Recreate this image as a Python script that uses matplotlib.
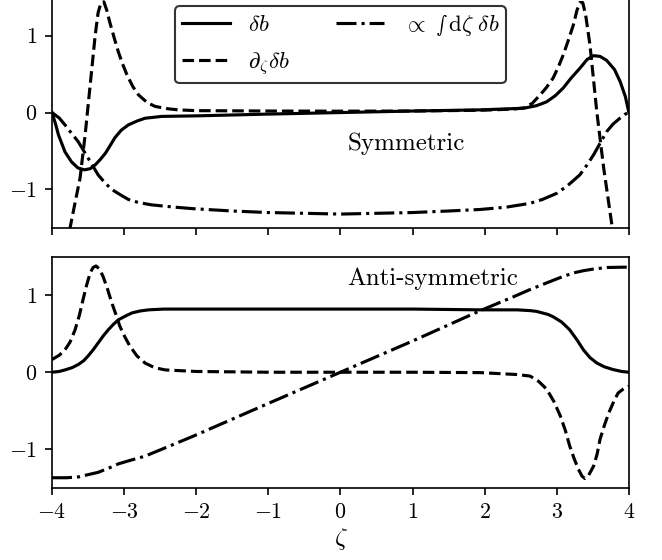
import matplotlib
matplotlib.use("Agg")
import matplotlib.pyplot as plt

plt.rcParams['font.family'] = 'serif'
plt.rcParams['font.serif'] = ['cmr10']
plt.rcParams['mathtext.fontset'] = 'cm'
plt.rcParams['axes.formatter.use_mathtext'] = True
plt.rcParams['font.size'] = 12

# symmetric mode (top panel)
sym_b_x = [-4.0, -3.95, -3.91, -3.82, -3.73, -3.64, -3.55, -3.47, -3.40, -3.33, -3.26,
           -3.20, -3.13, -3.04, -2.94, -2.82, -2.71, -2.48, -2.0, -1.0, 0.0, 1.0, 1.94,
           2.54, 2.72, 2.86, 2.98, 3.09, 3.2, 3.32, 3.42, 3.51, 3.60, 3.69, 3.80, 3.88,
           3.95, 4.0]
sym_b_y = [0.0, -0.15, -0.29, -0.51, -0.64, -0.72, -0.745, -0.73, -0.68, -0.61, -0.53,
           -0.44, -0.33, -0.23, -0.16, -0.11, -0.074, -0.05, -0.043, -0.02, 0.0, 0.02, 0.035,
           0.056, 0.09, 0.14, 0.22, 0.32, 0.45, 0.575, 0.69, 0.74, 0.73, 0.68, 0.56, 0.40,
           0.21, 0.0]

sym_db_x = [-3.80, -3.69, -3.61, -3.54, -3.47, -3.40, -3.36, -3.32, -3.28, -3.24, -3.20,
            -3.14, -3.08, -3.02, -2.96, -2.88, -2.80, -2.68, -2.57, -2.40, -2.25, -2.0,
            -1.0, 0.0, 1.0, 1.94, 2.40, 2.54, 2.66, 2.77, 2.86, 2.95, 3.02, 3.09, 3.16,
            3.23, 3.28, 3.32, 3.36, 3.40, 3.46, 3.555, 3.65, 3.77, 3.80]
sym_db_y = [-1.74, -1.22, -0.85, -0.29, 0.36, 1.01, 1.30, 1.43, 1.44, 1.33, 1.18,
            0.98, 0.79, 0.63, 0.49, 0.34, 0.23, 0.13, 0.08, 0.05, 0.035, 0.025,
            0.02, 0.018, 0.02, 0.03, 0.045, 0.06, 0.12, 0.23, 0.33, 0.45, 0.59, 0.75, 0.94,
            1.14, 1.33, 1.43, 1.43, 1.27, 0.88, 0.01, -0.72, -1.50, -1.72]

sym_int_x = [-4.0, -3.9, -3.82, -3.72, -3.635, -3.50, -3.43, -3.36, -3.26, -3.17, -3.05,
             -2.94, -2.8, -2.62, -2.3, -2.04, -1.5, -1.0, 0.0, 1.0, 1.5, 1.94, 2.3, 2.63,
             2.8, 3.00, 3.15, 3.32, 3.42, 3.51, 3.6, 3.69, 3.78, 3.88, 3.95, 4.0]
sym_int_y = [0.0, -0.07, -0.16, -0.28, -0.38, -0.59, -0.70, -0.81, -0.92, -1.00, -1.07,
             -1.13, -1.17, -1.20, -1.23, -1.25, -1.28, -1.30, -1.32, -1.30, -1.28, -1.26,
             -1.23, -1.18, -1.13, -1.05, -0.95, -0.81, -0.68, -0.55, -0.40, -0.25, -0.15,
             -0.07, -0.02, 0.0]

# anti-symmetric mode (bottom panel)
asym_b_x = [-4.0, -3.9, -3.82, -3.72, -3.635, -3.56, -3.50, -3.43, -3.36, -3.29, -3.22,
            -3.15, -3.08, -2.98, -2.89, -2.78, -2.66, -2.45, -2.25, -1.0, 0.0, 1.0, 1.94,
            2.45, 2.63, 2.72, 2.80, 2.88, 2.95, 3.07, 3.18, 3.28, 3.37, 3.46, 3.555, 3.66,
            3.78, 3.9, 4.0]
asym_b_y = [0.0, 0.01, 0.03, 0.06, 0.10, 0.15, 0.21, 0.29, 0.38, 0.47, 0.55,
            0.62, 0.68, 0.73, 0.77, 0.795, 0.81, 0.82, 0.82, 0.82, 0.82, 0.82, 0.81,
            0.81, 0.80, 0.79, 0.77, 0.75, 0.72, 0.65, 0.55, 0.42, 0.29, 0.19, 0.12, 0.07,
            0.035, 0.01, 0.0]

asym_db_x = [-4.0, -3.9, -3.82, -3.75, -3.68, -3.62, -3.57, -3.52, -3.47, -3.43, -3.39,
             -3.34, -3.29, -3.23, -3.17, -3.11, -3.06, -2.99, -2.92, -2.82, -2.71, -2.58,
             -2.43, -2.0, -1.0, 0.0, 1.0, 1.94, 2.45, 2.63, 2.75, 2.86, 2.96, 3.05, 3.12,
             3.18, 3.24, 3.30, 3.35, 3.39, 3.44, 3.51, 3.56, 3.60, 3.66, 3.72, 3.79, 3.85,
             3.92, 4.0]
asym_db_y = [0.165, 0.22, 0.29, 0.39, 0.55, 0.74, 0.94, 1.13, 1.29, 1.36, 1.38,
             1.34, 1.24, 1.08, 0.90, 0.74, 0.60, 0.46, 0.34, 0.21, 0.12, 0.06,
             0.03, 0.01, 0.0, 0.0, 0.0, -0.005, -0.03, -0.05, -0.12, -0.22, -0.38, -0.57, -0.76,
             -0.96, -1.12, -1.26, -1.35, -1.38, -1.34, -1.22, -1.06, -0.87, -0.69, -0.53, -0.38, -0.27,
             -0.22, -0.18]

asym_int_x = [-4.0, -3.8, -3.635, -3.5, -3.36, -3.2, -3.08, -2.9, -2.71, -2.4, -2.04,
              -1.0, 0.0, 1.0, 1.94, 2.40, 2.62, 2.86, 3.05, 3.23, 3.38, 3.51, 3.7, 4.0]
asym_int_y = [-1.37, -1.37, -1.36, -1.33, -1.30, -1.24, -1.19, -1.14, -1.09, -0.97, -0.83,
              -0.405, 0.0, 0.405, 0.80, 0.98, 1.07, 1.16, 1.23, 1.29, 1.32, 1.34, 1.36, 1.365]

labels = [r'$\delta b$', r'$\partial_\zeta \delta b$',
          r'$\propto\ \mathcal{s}\, \mathrm{d}\zeta\ \delta b$']

fig = plt.figure(figsize=(662/150, 560/150), dpi=150)
ax1 = fig.add_axes([0.0785, 0.593, 0.8715, 0.412])
ax2 = fig.add_axes([0.0785, 0.129, 0.8715, 0.4126], sharex=ax1)

lw = 1.5
ax1.plot(sym_b_x, sym_b_y, 'k-', lw=lw, label=labels[0])
ax1.plot(sym_db_x, sym_db_y, 'k--', lw=lw, label=labels[1])
ax1.plot(sym_int_x, sym_int_y, 'k-.', lw=lw, label=labels[2])
ax1.text(0.1, -0.40, 'Symmetric', ha='left', va='center', fontsize=12)
ax1.legend(loc='upper center', ncol=2, fontsize=11, edgecolor='k',
           handlelength=2.1, labelspacing=0.65, borderpad=0.3, borderaxespad=0.4)

ax2.plot(asym_b_x, asym_b_y, 'k-', lw=lw)
ax2.plot(asym_db_x, asym_db_y, 'k--', lw=lw)
ax2.plot(asym_int_x, asym_int_y, 'k-.', lw=lw)
ax2.text(0.1, 1.22, 'Anti-symmetric', ha='left', va='center', fontsize=12)

for ax in (ax1, ax2):
    ax.set_xlim(-4, 4)
    ax.set_ylim(-1.5, 1.5)
    ax.set_yticks([-1, 0, 1])
    ax.tick_params(labelsize=10.5)
ax1.tick_params(labelbottom=False)
ax2.set_xlabel(r'$\zeta$', fontsize=12, labelpad=2)

fig.savefig('out.png', dpi=150)
